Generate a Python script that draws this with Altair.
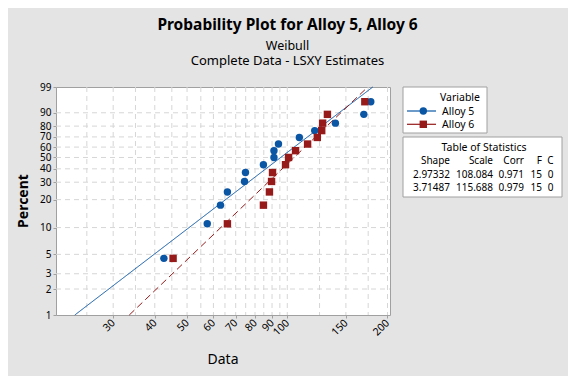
import math
import pandas as pd
import altair as alt

# ---- data ----
series_names = ["Alloy 5", "Alloy 6"]
percent = [4.5, 11.0, 17.5, 24.0, 30.5, 37.0, 43.5, 50.0, 56.5, 63.0, 69.5, 76.0, 82.5, 89.0, 95.5]
alloy5 = [42.6, 57.5, 63.0, 66.1, 74.4, 74.9, 84.8, 91.2, 91.2, 94.1, 108.7, 120.9, 139.5, 169.8, 178.2]
alloy6 = [45.4, 66.1, 84.8, 88.4, 89.7, 90.3, 98.8, 100.9, 105.9, 115.1, 123.1, 126.9, 127.7, 132.0, 171.0]

shape = [2.97332, 3.71487]
scale = [108.084, 115.688]
corr = ["0.971", "0.979"]
f_count = ["15", "15"]
c_count = ["0", "0"]

x_ticks = [30, 40, 50, 60, 70, 80, 90, 100, 150, 200]
x_grid = [25, 30, 35, 40, 45, 50, 55, 60, 65, 70, 75, 80, 85, 90, 95, 100, 125, 150, 175, 200]
y_ticks = [1, 2, 3, 5, 10, 20, 30, 40, 50, 60, 70, 80, 90, 99]
y_grid = [2, 3, 5, 10, 20, 30, 40, 50, 60, 70, 80, 90]

BLUE = "#0A56A4"
RED = "#961A1A"
FONT = "Noto Sans"
W, H = 334, 228


def wb(p):
    return math.log(-math.log(1 - p / 100.0))


points = pd.DataFrame({
    "alloy": [series_names[0]] * len(alloy5) + [series_names[1]] * len(alloy6),
    "x": alloy5 + alloy6,
    "p": percent + percent,
})

# fitted Weibull lines: endpoints at 1% and 99% from shape/scale
line_rows = []
for name, b, s in zip(series_names, shape, scale):
    for p in (1.0, 99.0):
        line_rows.append({"alloy": name, "x": s * (-math.log(1 - p / 100.0)) ** (1.0 / b), "p": p})
lines = pd.DataFrame(line_rows)

xscale = alt.Scale(type="log", domain=[20.2, 203.5], nice=False)
yscale = alt.Scale(domain=[wb(1), wb(99)], nice=False, zero=False)
cscale = alt.Scale(domain=series_names, range=[BLUE, RED])

x_axis = alt.Axis(values=x_ticks, format="d", labelAngle=-45, labelAlign="right",
                  labelBaseline="middle", labelPadding=3, tickSize=3, grid=False,
                  domain=False, labelFont=FONT, labelFontSize=10.5, labelColor="#000000",
                  tickColor="#A0A0A0", labelOverlap=False, labelFlush=False, title=None)
y_axis = alt.Axis(values=[wb(v) for v in y_ticks],
                  labelExpr="format(100*(1-exp(-exp(datum.value))), '.0f')",
                  tickSize=3, grid=False, domain=False, labelPadding=2,
                  labelFont=FONT, labelFontSize=10, labelColor="#000000",
                  tickColor="#A0A0A0", labelOverlap=False, labelFlush=False,
                  labelBound=False, title=None)

# grid
xgrid = alt.Chart(pd.DataFrame({"g": x_grid})).mark_rule(
    color="#D6D6D6", strokeDash=[5, 4], strokeWidth=1
).encode(x=alt.X("g:Q", scale=xscale, axis=x_axis), y=alt.value(0), y2=alt.value(H))

ygrid = alt.Chart(pd.DataFrame({"g": y_grid})).transform_calculate(
    w="log(-log(1 - datum.g/100))"
).mark_rule(color="#D6D6D6", strokeDash=[5, 4], strokeWidth=1).encode(
    y=alt.Y("w:Q", scale=yscale, axis=y_axis), x=alt.value(0), x2=alt.value(W)
)

fit = alt.Chart(lines).transform_calculate(
    w="log(-log(1 - datum.p/100))"
).mark_line(strokeWidth=1).encode(
    x=alt.X("x:Q", scale=xscale, axis=x_axis),
    y=alt.Y("w:Q", scale=yscale, axis=y_axis),
    color=alt.Color("alloy:N", scale=cscale, legend=None),
    strokeDash=alt.StrokeDash("alloy:N", scale=alt.Scale(domain=series_names, range=[[1, 0], [7, 4]]), legend=None),
    detail="alloy:N",
)

pts = alt.Chart(points).transform_calculate(
    w="log(-log(1 - datum.p/100))"
).mark_point(filled=True, opacity=1, size=55).encode(
    x=alt.X("x:Q", scale=xscale, axis=x_axis),
    y=alt.Y("w:Q", scale=yscale, axis=y_axis),
    color=alt.Color("alloy:N", scale=cscale, legend=None),
    shape=alt.Shape("alloy:N", scale=alt.Scale(domain=series_names, range=["circle", "square"]), legend=None),
)

one = pd.DataFrame({"k": [0]})


def txt(s, x, y, size=11, weight="normal", align="left", angle=0, baseline="alphabetic"):
    return alt.Chart(pd.DataFrame({"t": [s]})).mark_text(
        font=FONT, fontSize=size, fontWeight=weight, align=align, baseline=baseline,
        angle=angle, color="#000000"
    ).encode(x=alt.value(x), y=alt.value(y), text="t:N")


def box(x1, x2, y1, y2):
    return alt.Chart(one).mark_rect(fill="white", stroke="#A0A0A0", strokeWidth=1).encode(
        x=alt.value(x1), x2=alt.value(x2), y=alt.value(y1), y2=alt.value(y2)
    )


layers = [xgrid, ygrid, fit, pts]

# titles
layers += [
    txt("Probability Plot for Alloy 5, Alloy 6", 231.5, -57.5, size=15.5, weight="bold", align="center"),
    txt("Weibull", 231.5, -37.5, size=12.5, align="center"),
    txt("Complete Data - LSXY Estimates", 231.5, -22, size=13, align="center"),
    txt("Data", W / 2, 277, size=14, align="center"),
    txt("Percent", -32, H / 2, size=14, weight="bold", align="center", angle=270, baseline="middle"),
]

# legend box
lx = 347
layers += [
    box(lx, lx + 84, 0, 46),
    txt("Variable", lx + 57, 14, size=10.5, align="center"),
]
for i, (name, col, shp) in enumerate(zip(series_names, [BLUE, RED], ["circle", "square"])):
    yy = 24 + i * 13.3
    layers.append(alt.Chart(one).mark_rule(color=col, strokeWidth=1.2).encode(
        x=alt.value(lx + 4), x2=alt.value(lx + 33), y=alt.value(yy)))
    layers.append(alt.Chart(one).mark_point(filled=True, opacity=1, size=55, shape=shp, color=col).encode(
        x=alt.value(lx + 20.3), y=alt.value(yy)))
    layers.append(txt(name, lx + 39, yy + 4, size=10.5))

# statistics table
layers += [
    box(lx, lx + 159, 50, 110),
    txt("Table of Statistics", lx + 81, 64, size=10.5, align="center"),
]
col_right = [lx + 47, lx + 90, lx + 121, lx + 139, lx + 150.5]
headers = ["Shape", "Scale", "Corr", "F", "C"]
for h, xr in zip(headers, col_right):
    layers.append(txt(h, xr, 76.5, size=10, align="right"))
for r in range(len(series_names)):
    vals = [f"{shape[r]:.5f}", f"{scale[r]:.3f}", corr[r], f_count[r], c_count[r]]
    for v, xr in zip(vals, col_right):
        layers.append(txt(v, xr, 90.5 + r * 13.4, size=10, align="right"))

chart = alt.layer(*layers).properties(
    width=W, height=H,
    padding={"left": 48, "top": 79, "right": 560 - 48 - W, "bottom": 368 - 79 - H},
    autosize=alt.AutoSizeParams(type="none"),
    background="#E4E4E4",
).configure_view(fill="white", stroke="#A0A0A0", strokeWidth=1).configure_axis(grid=False)

chart.save("out.html", embed_options={"renderer": "svg", "actions": False})
